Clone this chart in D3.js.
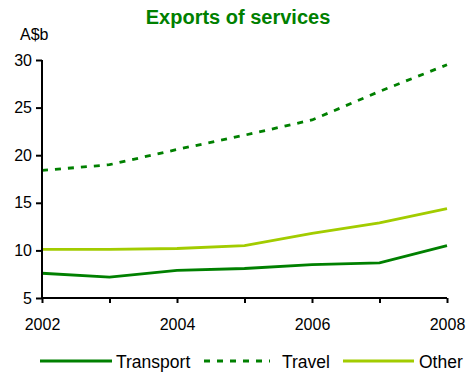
<!DOCTYPE html>
<html><head><meta charset="utf-8">
<script src="https://cdn.jsdelivr.net/npm/d3@7"></script>
<style>body{margin:0;background:#fff}text{font-family:Arial,"Liberation Sans",sans-serif}</style>
</head><body><svg id="c" width="473" height="374"></svg>
<script>
const years = [2002, 2003, 2004, 2005, 2006, 2007, 2008];
const transport = [7.6, 7.2, 7.9, 8.1, 8.5, 8.7, 10.5];
const travel = [18.4, 19.0, 20.6, 22.1, 23.7, 26.7, 29.5];
const other = [10.1, 10.1, 10.2, 10.5, 11.8, 12.9, 14.4];
const yTicks = [5, 10, 15, 20, 25, 30];
const xLabels = [2002, 2004, 2006, 2008];

const svg = d3.select("#c");
const x = d3.scaleLinear().domain([2002, 2008]).range([42, 447]);
const y = d3.scaleLinear().domain([5, 30]).range([298, 60]);

svg.append("text").attr("x", 238).attr("y", 24).attr("text-anchor", "middle")
  .attr("font-size", 20).attr("font-weight", "bold").attr("fill", "#008000").text("Exports of services");
svg.append("text").attr("x", 20).attr("y", 40).attr("font-size", 16).attr("fill", "#000").text("A$b");

const series = [
  {name: "Transport", v: transport, color: "#008000", dash: null},
  {name: "Travel", v: travel, color: "#008000", dash: "6,7"},
  {name: "Other", v: other, color: "#a2cc00", dash: null}
];
const line = d3.line().x((d, i) => x(years[i])).y(d => y(d));
series.forEach(s => {
  svg.append("path").datum(s.v).attr("d", line).attr("fill", "none")
    .attr("stroke", s.color).attr("stroke-width", 2.8)
    .attr("stroke-dasharray", s.dash);
});

const ya = svg.append("g").attr("transform", "translate(42,0)")
  .call(d3.axisLeft(y).tickValues(yTicks).tickSize(6).tickPadding(4).tickFormat(d3.format("d")));
const xa = svg.append("g").attr("transform", "translate(0,298)")
  .call(d3.axisBottom(x).tickValues(years).tickSize(5).tickFormat(d => xLabels.includes(d) ? d : ""));
[ya, xa].forEach(a => {
  a.selectAll("path,line").attr("stroke", "#000").attr("stroke-width", 2);
  a.select(".domain").attr("d", a === ya ? "M0,298V60" : "M42,0H447");
  a.selectAll("text").attr("font-size", 16).attr("fill", "#000").attr("font-family", "Arial,'Liberation Sans',sans-serif");
});
xa.selectAll("text").attr("y", 32).attr("dy", 0);

const leg = [
  {x1: 40, x2: 112, tx: 116},
  {x1: 204, x2: 270, tx: 282},
  {x1: 343, x2: 414, tx: 419}
];
series.forEach((s, i) => {
  const l = leg[i];
  svg.append("line").attr("x1", l.x1).attr("x2", l.x2).attr("y1", 361).attr("y2", 361)
    .attr("stroke", s.color).attr("stroke-width", 2.8).attr("stroke-dasharray", s.dash);
  svg.append("text").attr("x", l.tx).attr("y", 368).attr("font-size", 17.5).attr("fill", "#000").text(s.name);
});
</script></body></html>
